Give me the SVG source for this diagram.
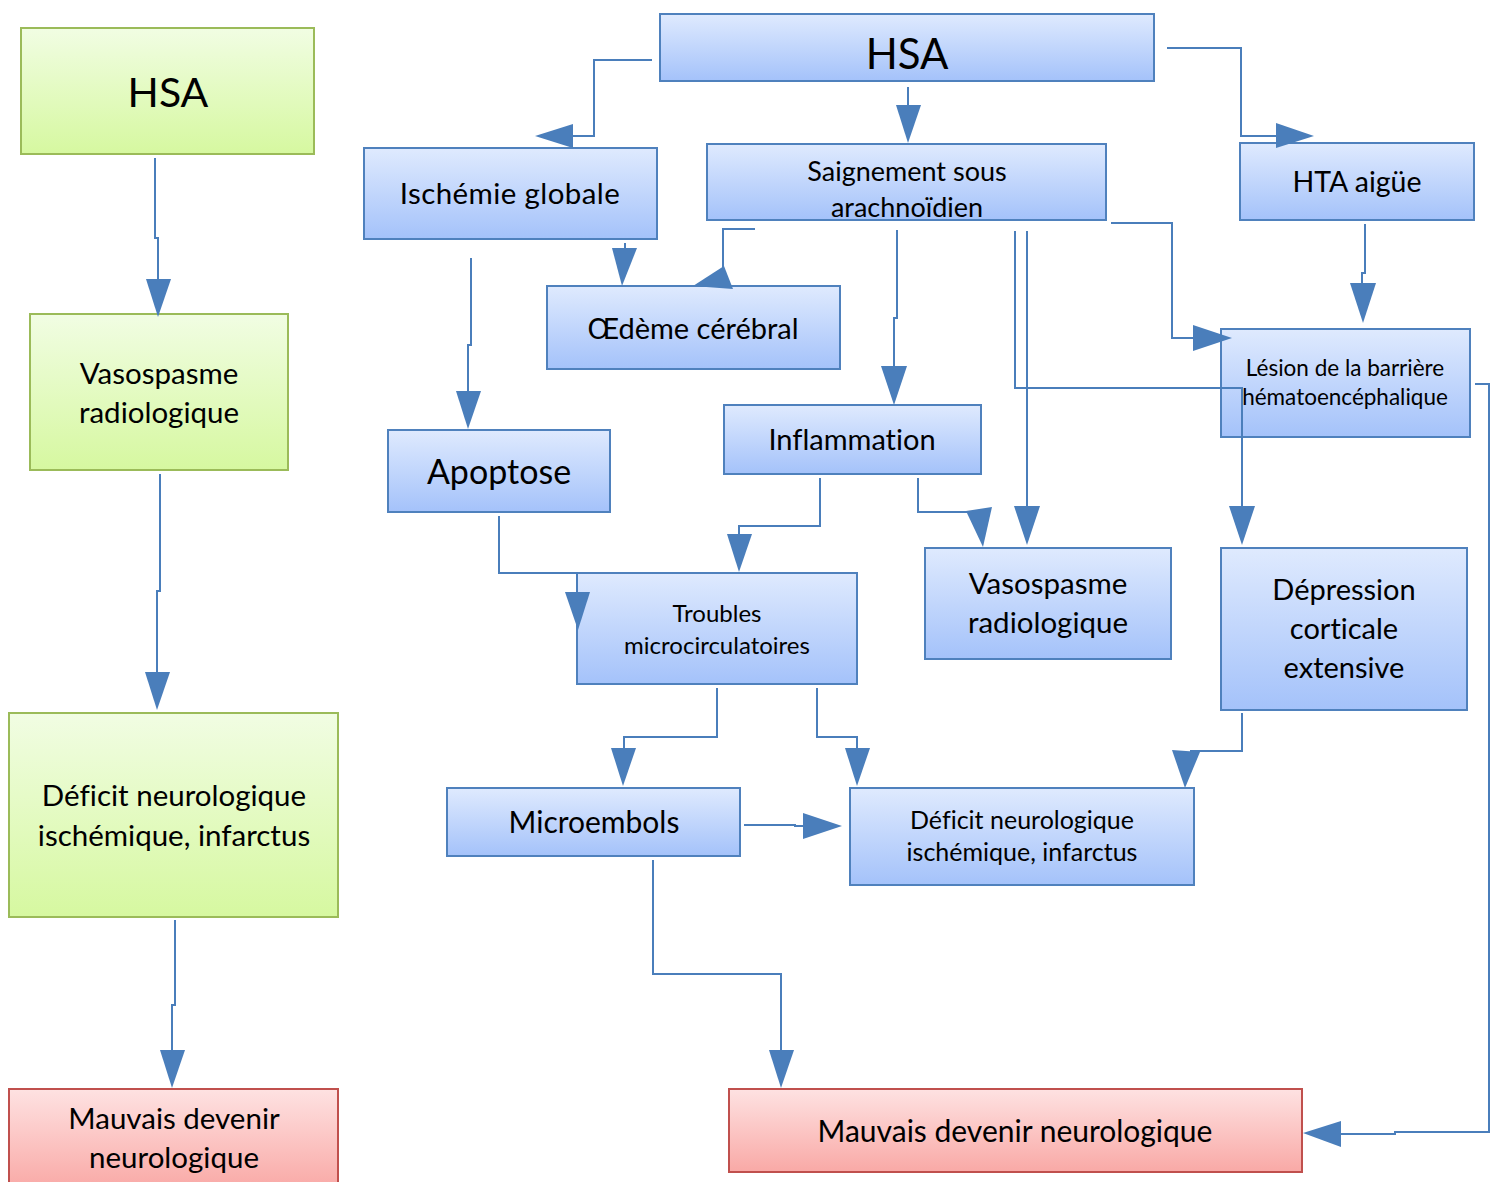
<svg xmlns="http://www.w3.org/2000/svg" width="1498" height="1182" viewBox="0 0 1498 1182">
<defs>
<linearGradient id="gb" x1="0" y1="0" x2="0" y2="1"><stop offset="0" stop-color="#dfeafe"/><stop offset="1" stop-color="#a4c2fa"/></linearGradient>
<linearGradient id="gg" x1="0" y1="0" x2="0" y2="1"><stop offset="0" stop-color="#f1fde3"/><stop offset="1" stop-color="#d6f8a0"/></linearGradient>
<linearGradient id="gr" x1="0" y1="0" x2="0" y2="1"><stop offset="0" stop-color="#fee2e2"/><stop offset="1" stop-color="#f9a9a6"/></linearGradient>
<style>
.b{fill:url(#gb);stroke:#4f81bd;stroke-width:2}
.g{fill:url(#gg);stroke:#9bbb59;stroke-width:2}
.r{fill:url(#gr);stroke:#c0504d;stroke-width:2}
text{font-family:Lato,"Open Sans","Liberation Sans",sans-serif;fill:#000;text-anchor:middle;font-variant-ligatures:none}
.c path{fill:none;stroke:#4a7ebb;stroke-width:2}
.c polygon{fill:#4a7ebb;stroke:none}
</style>
</defs>
<rect width="1498" height="1182" fill="#fff"/>

<g id="l-hsa"><rect class="g" x="21" y="28" width="293" height="126"/><text x="168" y="107" font-size="41">HSA</text></g>
<g id="l-vaso"><rect class="g" x="30" y="314" width="258" height="156"/><text x="159" y="384" font-size="29.5">Vasospasme</text><text x="159" y="423" font-size="29.5">radiologique</text></g>
<g id="l-deficit"><rect class="g" x="9" y="713" width="329" height="204"/><text x="174" y="806" font-size="29.5">Déficit neurologique</text><text x="174" y="846" font-size="29.5">ischémique, infarctus</text></g>
<g id="l-mauvais"><rect class="r" x="9" y="1089" width="329" height="100"/><text x="174" y="1129" font-size="29.5">Mauvais devenir</text><text x="174" y="1168" font-size="29.5">neurologique</text></g>

<g id="hsa"><rect class="b" x="660" y="14" width="494" height="67"/><text x="907" y="69" font-size="42">HSA</text></g>
<g id="ischemie"><rect class="b" x="364" y="148" width="293" height="91"/><text x="510" y="204" font-size="29.5" letter-spacing="0.4">Ischémie globale</text></g>
<g id="saignement"><rect class="b" x="707" y="144" width="399" height="76"/><text x="907" y="181" font-size="27">Saignement sous</text><text x="907" y="217" font-size="27">arachnoïdien</text></g>
<g id="hta"><rect class="b" x="1240" y="143" width="234" height="77"/><text x="1357" y="192" font-size="28.5">HTA aigüe</text></g>
<g id="oedeme"><rect class="b" x="547" y="286" width="293" height="83"/><text x="693" y="339" font-size="29">Œdème cérébral</text></g>
<g id="lesion"><rect class="b" x="1221" y="329" width="249" height="108"/><text x="1345" y="376" font-size="22.5">Lésion de la barrière</text><text x="1345" y="405" font-size="22.5">hématoencéphalique</text></g>
<g id="apoptose"><rect class="b" x="388" y="430" width="222" height="82"/><text x="499" y="484" font-size="34">Apoptose</text></g>
<g id="inflammation"><rect class="b" x="724" y="405" width="257" height="69"/><text x="852" y="450" font-size="29">Inflammation</text></g>
<g id="troubles"><rect class="b" x="577" y="573" width="280" height="111"/><text x="717" y="622" font-size="24">Troubles</text><text x="717" y="654" font-size="24">microcirculatoires</text></g>
<g id="vaso"><rect class="b" x="925" y="548" width="246" height="111"/><text x="1048" y="594" font-size="29.5">Vasospasme</text><text x="1048" y="633" font-size="29.5">radiologique</text></g>
<g id="depression"><rect class="b" x="1221" y="548" width="246" height="162"/><text x="1344" y="600" font-size="29">Dépression</text><text x="1344" y="639" font-size="29">corticale</text><text x="1344" y="678" font-size="29">extensive</text></g>
<g id="microembols"><rect class="b" x="447" y="788" width="293" height="68"/><text x="594" y="833" font-size="30">Microembols</text></g>
<g id="deficit"><rect class="b" x="850" y="788" width="344" height="97"/><text x="1022" y="829" font-size="25">Déficit neurologique</text><text x="1022" y="861" font-size="25">ischémique, infarctus</text></g>
<g id="mauvais"><rect class="r" x="729" y="1089" width="573" height="83"/><text x="1015" y="1142" font-size="30">Mauvais devenir neurologique</text></g>

<g id="connectors" class="c">
<path d="M155,158 V238 H158 V280"/><polygon points="146,279 171,279 158,317"/>
<path d="M160,474 V591 H157 V673"/><polygon points="145,672 170,672 157,710"/>
<path d="M175,920 V1005 H172 V1051"/><polygon points="160,1050 185,1050 172,1088"/>
<path d="M652,60 H594 V136 H572"/><polygon points="573,124 573,148 535,136"/>
<path d="M908,87 V106"/><polygon points="896,105 921,105 908,143"/>
<path d="M1167,48 H1241 V136 H1277"/><polygon points="1276,123 1276,148 1314,136"/>
<path d="M625,243 V249"/><polygon points="612,248 637,248 622,286"/>
<path d="M755,229 H723 V268"/><polygon points="693,286 724,266 733,289"/>
<path d="M471,258 V345 H468 V392"/><polygon points="456,391 481,391 468,429"/>
<path d="M897,230 V318 H894 V367"/><polygon points="881,366 907,366 894,405"/>
<path d="M1027,231 V507"/><polygon points="1014,506 1040,506 1027,545"/>
<path d="M1015,231 V388 H1242 V507"/><polygon points="1229,506 1255,506 1242,545"/>
<path d="M1111,223 H1172 V338 H1194"/><polygon points="1193,325 1193,351 1232,338"/>
<path d="M1365,224 V273 H1362 V284"/><polygon points="1350,283 1376,283 1363,323"/>
<path d="M1475,384 H1489 V1132 H1395 V1134 H1340"/><polygon points="1341,1121 1341,1147 1303,1133"/>
<path d="M820,478 V526 H739 V535"/><polygon points="727,534 752,534 739,572"/>
<path d="M918,478 V512 H968"/><polygon points="966,511 992,507 983,547"/>
<path d="M499,516 V573 H577 V593"/><polygon points="565,592 590,592 578,630"/>
<path d="M717,688 V737 H624 V749"/><polygon points="611,748 636,748 623,786"/>
<path d="M817,688 V737 H857 V749"/><polygon points="845,748 870,748 857,786"/>
<path d="M1242,713 V751 H1190"/><polygon points="1172,750 1200,752 1185,788"/>
<path d="M744,825 H795 V826 H804"/><polygon points="803,813 803,839 842,826"/>
<path d="M653,860 V974 H781 V1051"/><polygon points="769,1050 794,1050 781,1088"/>
</g>
</svg>
